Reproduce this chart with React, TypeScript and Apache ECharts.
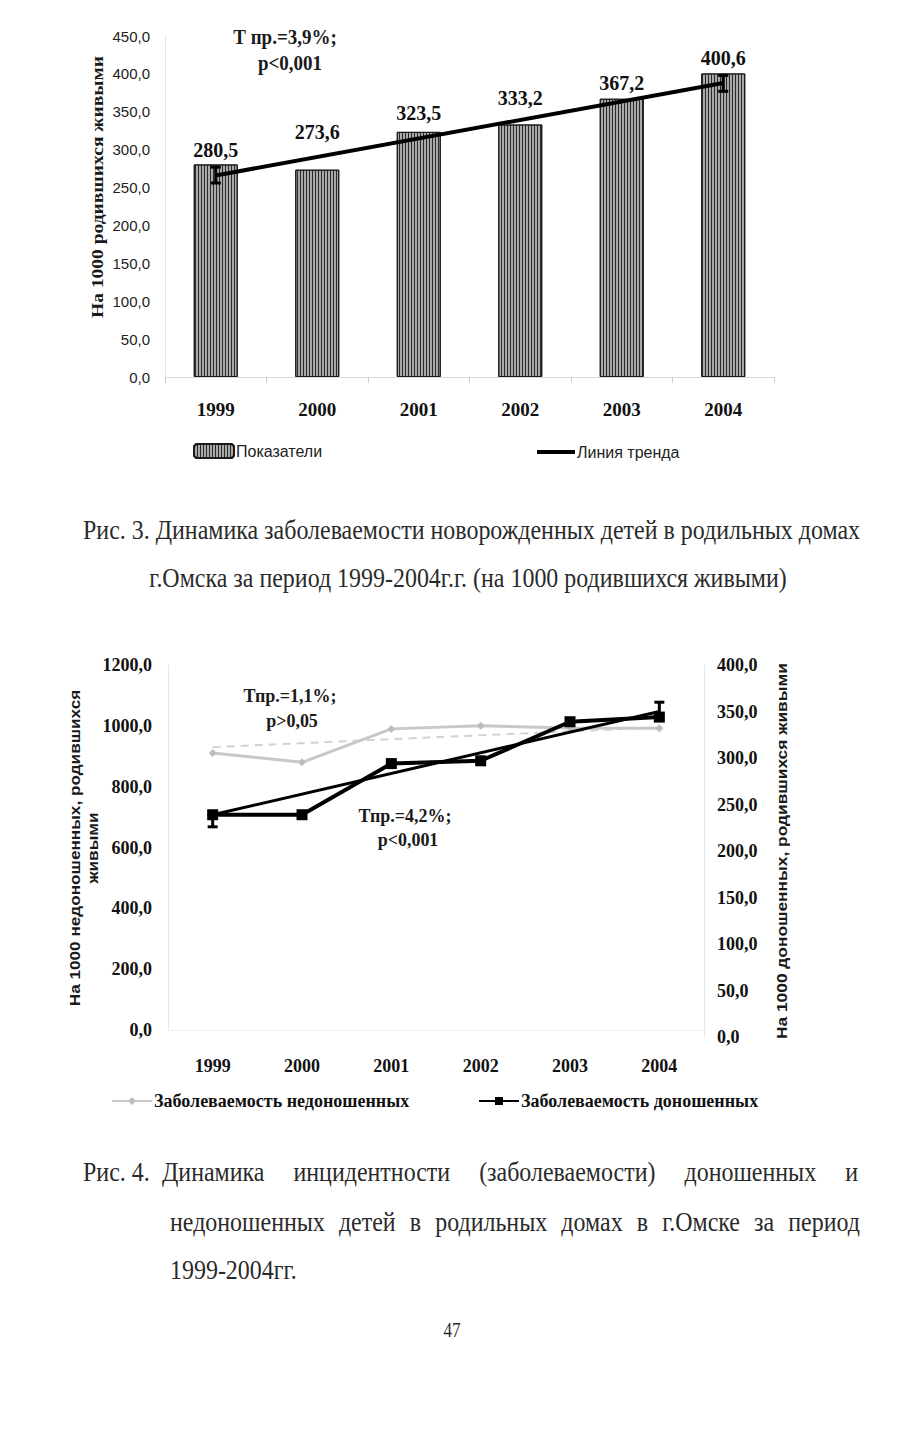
import React, { useEffect, useRef } from "react";
import * as echarts from "echarts";

// ---------- data ----------
const years = ["1999", "2000", "2001", "2002", "2003", "2004"];

// Fig. 3
const rates = [280.5, 273.6, 323.5, 333.2, 367.2, 400.6];
const trend1 = [266, null, null, null, null, 388];
const errBars1 = [
  [0, 256, 277],
  [5, 377, 398],
];

// Fig. 4
const pretermRates = [911, 880, 990, 1000, 993, 992];
const pretermTrend = [930, null, null, null, null, 995];
const termRates = [239, 239, 294, 297, 339, 344];
const termTrend = [239, null, null, null, null, 350];
const errBars2 = [
  [0, 226, 239],
  [5, 344, 360],
];

// ---------- text ----------
const cap1a = "Рис. 3. Динамика заболеваемости новорожденных детей в родильных домах";
const cap1b = "г.Омска за период 1999-2004г.г. (на 1000 родившихся живыми)";
const cap2head = ["Рис.", "4."];
const cap2a = ["Динамика", "инцидентности", "(заболеваемости)", "доношенных", "и"];
const cap2b = ["недоношенных", "детей", "в", "родильных", "домах", "в", "г.Омске", "за", "период"];
const cap2c = "1999-2004гг.";

// label lift (style only)
const labelLift = [0, -24, -5, -13, -2, -1];

const SERIF = '"Liberation Serif", "Times New Roman", serif';
const SANS = '"Liberation Sans", Arial, sans-serif';

const fmt = (v: number) => v.toFixed(1).replace(".", ",");

let _ctx: CanvasRenderingContext2D | null = null;
function measure(text: string, size: number, family: string, weight = "normal") {
  if (!_ctx) _ctx = document.createElement("canvas").getContext("2d");
  _ctx!.font = `${weight} ${size}px ${family}`;
  return _ctx!.measureText(text).width;
}

function txt(
  text: string,
  x: number,
  y: number,
  o: {
    size: number;
    family?: string;
    weight?: string;
    align?: string;
    fill?: string;
    scaleX?: number;
    scaleY?: number;
    rotation?: number;
  }
) {
  return {
    type: "text",
    x,
    y,
    rotation: o.rotation || 0,
    scaleX: o.scaleX || 1,
    scaleY: o.scaleY || 1,
    silent: true,
    style: {
      text,
      fontFamily: o.family || SERIF,
      fontSize: o.size,
      fontWeight: o.weight || "normal",
      fill: o.fill || "#1a1a1a",
      textAlign: o.align || "left",
      textVerticalAlign: "middle",
    },
  };
}

function fitScale(text: string, size: number, family: string, weight: string, target: number) {
  return target / measure(text, size, family, weight);
}

function justified(words: string[], x0: number, x1: number, y: number, size: number, sx: number, sy: number) {
  const widths = words.map((w) => measure(w, size, SERIF) * sx);
  const total = widths.reduce((a, b) => a + b, 0);
  const gap = (x1 - x0 - total) / (words.length - 1);
  const out: any[] = [];
  let x = x0;
  words.forEach((w, i) => {
    out.push(txt(w, x, y, { size, scaleX: sx, scaleY: sy, fill: "#2a2a2a" }));
    x += widths[i] + gap;
  });
  return out;
}

function errRender(params: any, api: any) {
  const x = api.value(0);
  const lo = api.coord([x, api.value(1)]);
  const hi = api.coord([x, api.value(2)]);
  const w = 5;
  const st = { stroke: "#000", lineWidth: 3 };
  return {
    type: "group",
    children: [
      { type: "line", shape: { x1: lo[0], y1: lo[1], x2: hi[0], y2: hi[1] }, style: st },
      { type: "line", shape: { x1: lo[0] - w, y1: lo[1], x2: lo[0] + w, y2: lo[1] }, style: st },
      { type: "line", shape: { x1: hi[0] - w, y1: hi[1], x2: hi[0] + w, y2: hi[1] }, style: st },
    ],
  };
}

export default function App() {
  const ref = useRef<HTMLDivElement>(null);

  useEffect(() => {
    if (!ref.current) return;
    const chart = echarts.init(ref.current, undefined, { renderer: "svg" });

    const capSize = 25;
    const capSX = fitScale(cap1a, capSize, SERIF, "normal", 777);
    const capSY = 1.08;
    const risW = measure(cap2head[0], capSize, SERIF) * capSX;

    const yName1 = "На 1000 родившихся живыми";
    const yName1S = fitScale(yName1, 16, SERIF, "bold", 262);
    const lName = "На 1000 недоношенных, родившихся";
    const lNameS = fitScale(lName, 14, SANS, "bold", 317);
    const rName = "На 1000 доношенных, родившихся живыми";
    const rNameS = fitScale(rName, 14, SANS, "bold", 376);

    const graphics: any[] = [
      // Fig 3 annotations
      txt("Т пр.=3,9%;", 285, 37, { size: 19, weight: "bold", align: "center", scaleY: 1.1 }),
      txt("p<0,001", 290, 63, { size: 19, weight: "bold", align: "center", scaleY: 1.1 }),
      txt(yName1, 97, 187, { size: 16, weight: "bold", align: "center", rotation: Math.PI / 2, scaleX: yName1S, scaleY: 1.1 }),
      // captions
      txt(cap1a, 83, 530, { size: capSize, scaleX: capSX, scaleY: capSY, fill: "#2a2a2a" }),
      txt(cap1b, 468, 578, { size: capSize, scaleX: capSX, scaleY: capSY, align: "center", fill: "#2a2a2a" }),
      // Fig 4 annotations
      txt("Тпр.=1,1%;", 290, 695, { size: 18, weight: "bold", align: "center", scaleY: 1.1 }),
      txt("p>0,05", 292, 720, { size: 18, weight: "bold", align: "center", scaleY: 1.1 }),
      txt("Тпр.=4,2%;", 405, 815, { size: 18, weight: "bold", align: "center", scaleY: 1.1 }),
      txt("p<0,001", 408, 839, { size: 18, weight: "bold", align: "center", scaleY: 1.1 }),
      txt(lName, 75, 848, { size: 14, family: SANS, weight: "bold", align: "center", rotation: Math.PI / 2, scaleX: lNameS }),
      txt("живыми", 93, 848, { size: 14, family: SANS, weight: "bold", align: "center", rotation: Math.PI / 2, scaleX: lNameS }),
      txt(rName, 782, 851, { size: 14, family: SANS, weight: "bold", align: "center", rotation: Math.PI / 2, scaleX: rNameS }),
      txt(cap2head[0], 83, 1172, { size: capSize, scaleX: capSX, scaleY: capSY, fill: "#2a2a2a" }),
      txt(cap2head[1], 83 + risW + 6, 1172, { size: capSize, scaleX: capSX, scaleY: capSY, fill: "#2a2a2a" }),
      ...justified(cap2a, 162, 858, 1172, capSize, capSX, capSY),
      ...justified(cap2b, 170, 860, 1222, capSize, capSX, capSY),
      txt(cap2c, 170, 1270, { size: capSize, scaleX: capSX, scaleY: capSY, fill: "#2a2a2a" }),
      txt("47", 452, 1330, { size: 19, align: "center", fill: "#2a2a2a", scaleX: 0.9, scaleY: 1.05 }),
    ];

    const faint = { lineStyle: { color: "#d8d8d8", width: 1 } };

    chart.setOption({
      animation: false,
      backgroundColor: "#ffffff",
      grid: [
        { left: 165, top: 36, width: 609, height: 341 },
        { left: 168, top: 665, width: 536, height: 365 },
        { left: 168, top: 665, width: 536, height: 372 },
      ],
      legend: [
        {
          data: ["Показатели"],
          left: 188,
          top: 438,
          itemWidth: 40,
          itemHeight: 14,
          itemGap: 4,
          textStyle: { fontFamily: SANS, fontSize: 16, color: "#222", padding: [0, 0, 0, -3] },
        },
        {
          data: [{ name: "Линия тренда", icon: "rect" }],
          left: 532,
          top: 439,
          itemWidth: 38,
          itemHeight: 4,
          textStyle: { fontFamily: SANS, fontSize: 16, color: "#222", padding: [0, 0, 0, -3] },
        },
        {
          data: ["Заболеваемость недоношенных"],
          left: 106,
          top: 1087,
          itemWidth: 40,
          itemHeight: 10,
          textStyle: { fontFamily: SERIF, fontWeight: "bold", fontSize: 18, color: "#111", padding: [0, 0, 0, -3] },
        },
        {
          data: ["Заболеваемость доношенных"],
          left: 473,
          top: 1087,
          itemWidth: 40,
          itemHeight: 10,
          textStyle: { fontFamily: SERIF, fontWeight: "bold", fontSize: 18, color: "#111", padding: [0, 0, 0, -3] },
        },
      ],
      xAxis: [
        {
          type: "category",
          gridIndex: 0,
          data: years,
          axisLine: { show: true, ...faint },
          axisTick: { show: true, length: 6, lineStyle: { color: "#ccc" } },
          axisLabel: { margin: 23, fontFamily: SERIF, fontWeight: "bold", fontSize: 19, color: "#111" },
        },
        {
          type: "category",
          gridIndex: 1,
          data: years,
          axisLine: { show: true, lineStyle: { color: "#eeeeee" } },
          axisTick: { show: false },
          axisLabel: { margin: 27, fontFamily: SERIF, fontWeight: "bold", fontSize: 18, color: "#111" },
        },
        {
          type: "category",
          gridIndex: 2,
          data: years,
          show: false,
        },
      ],
      yAxis: [
        {
          type: "value",
          gridIndex: 0,
          min: 0,
          max: 450,
          interval: 50,
          axisLine: { show: true, lineStyle: { color: "#dddddd", type: "dotted" } },
          axisTick: { show: false },
          splitLine: { show: false },
          axisLabel: { margin: 15, formatter: fmt, fontFamily: SANS, fontSize: 15, color: "#222" },
        },
        {
          type: "value",
          gridIndex: 1,
          min: 0,
          max: 1200,
          interval: 200,
          axisLine: { show: true, lineStyle: { color: "#e8e8e8" } },
          axisTick: { show: false },
          splitLine: { show: false },
          axisLabel: { margin: 16, formatter: fmt, fontFamily: SERIF, fontWeight: "bold", fontSize: 18, color: "#111" },
        },
        {
          type: "value",
          gridIndex: 2,
          position: "right",
          min: 0,
          max: 400,
          interval: 50,
          axisLine: { show: true, lineStyle: { color: "#e8e8e8" } },
          axisTick: { show: false },
          splitLine: { show: false },
          axisLabel: { margin: 13, formatter: fmt, fontFamily: SERIF, fontWeight: "bold", fontSize: 18, color: "#111" },
        },
      ],
      series: [
        {
          name: "Показатели",
          type: "bar",
          xAxisIndex: 0,
          yAxisIndex: 0,
          barWidth: 44,
          data: rates.map((v, i) => ({ value: v, label: { offset: [0, labelLift[i]] } })),
          itemStyle: {
            color: "#a9a9a9",
            borderColor: "#1a1a1a",
            borderWidth: 1,
            decal: {
              symbol: "rect",
              symbolSize: 1,
              symbolKeepAspect: false,
              dashArrayX: [1, 1.6],
              dashArrayY: [4, 0],
              rotation: 0,
              color: "#2a2a2a",
            },
          },
          label: {
            show: true,
            position: "top",
            distance: 4,
            formatter: (p: any) => fmt(p.value),
            fontFamily: SERIF,
            fontWeight: "bold",
            fontSize: 20,
            color: "#111",
          },
          z: 2,
        },
        {
          name: "Линия тренда",
          type: "line",
          xAxisIndex: 0,
          yAxisIndex: 0,
          data: trend1,
          connectNulls: true,
          symbol: "none",
          lineStyle: { color: "#000", width: 4 },
          itemStyle: { color: "#000" },
          z: 5,
        },
        {
          type: "custom",
          xAxisIndex: 0,
          yAxisIndex: 0,
          data: errBars1,
          encode: { x: 0, y: [1, 2] },
          renderItem: errRender,
          z: 6,
        },
        {
          name: "Заболеваемость недоношенных",
          type: "line",
          xAxisIndex: 1,
          yAxisIndex: 1,
          data: pretermRates,
          symbol: "diamond",
          symbolSize: 8,
          lineStyle: { color: "#c8c8c8", width: 3 },
          itemStyle: { color: "#bdbdbd" },
          z: 3,
        },
        {
          type: "line",
          xAxisIndex: 1,
          yAxisIndex: 1,
          data: pretermTrend,
          connectNulls: true,
          symbol: "none",
          lineStyle: { color: "#d2d2d2", width: 2, type: [8, 6] },
          z: 2,
        },
        {
          name: "Заболеваемость доношенных",
          type: "line",
          xAxisIndex: 2,
          yAxisIndex: 2,
          data: termRates,
          symbol: "rect",
          symbolSize: 11,
          lineStyle: { color: "#000", width: 4 },
          itemStyle: { color: "#000" },
          z: 6,
        },
        {
          type: "line",
          xAxisIndex: 2,
          yAxisIndex: 2,
          data: termTrend,
          connectNulls: true,
          symbol: "none",
          lineStyle: { color: "#000", width: 3 },
          z: 5,
        },
        {
          type: "custom",
          xAxisIndex: 2,
          yAxisIndex: 2,
          data: errBars2,
          encode: { x: 0, y: [1, 2] },
          renderItem: errRender,
          z: 7,
        },
      ],
      graphic: graphics,
    });

    return () => chart.dispose();
  }, []);

  return (
    <div
      ref={ref}
      style={{ position: "absolute", left: 0, top: 0, width: 918, height: 1430, background: "#fff" }}
    />
  );
}
